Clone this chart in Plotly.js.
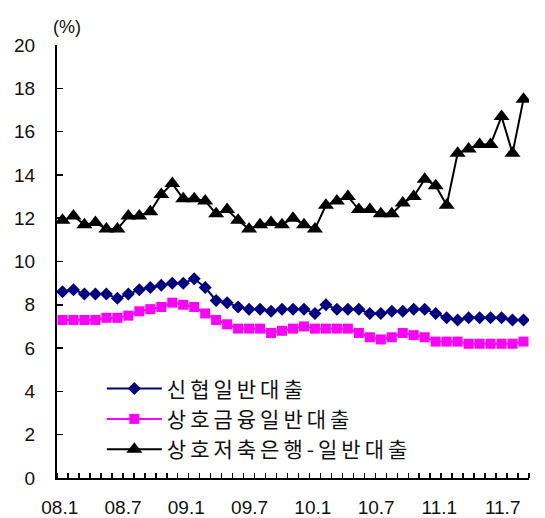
<!DOCTYPE html>
<html>
<head>
<meta charset="utf-8">
<script src="https://cdn.plot.ly/plotly-3.0.1.min.js"></script>
<style>
  html, body { margin: 0; padding: 0; background: #fff; }
  #chart { width: 545px; height: 518px; }
  /* the series names are set with a little extra tracking; let them run past the measured box */
  #chart .legendtext { letter-spacing: 4px; }
  #chart .legend .scrollbox { clip-path: none; }
</style>
</head>
<body>
<div id="chart"></div>
<script>
// Monthly general-loan rates (%), 2008.1 – 2011.7 (43 months)
const seriesNames = ['신협일반대출', '상호금융일반대출', '상호저축은행-일반대출'];

const shinhyup = [8.6, 8.7, 8.5, 8.5, 8.5, 8.3, 8.5, 8.7, 8.8, 8.9,
                  9.0, 9.0, 9.2, 8.8, 8.2, 8.1, 7.9, 7.8, 7.8, 7.7,
                  7.8, 7.8, 7.8, 7.6, 8.0, 7.8, 7.8, 7.8, 7.6, 7.6,
                  7.7, 7.7, 7.8, 7.8, 7.6, 7.4, 7.3, 7.4, 7.4, 7.4,
                  7.4, 7.3, 7.3];

const sanghoFin = [7.3, 7.3, 7.3, 7.3, 7.4, 7.4, 7.5, 7.7, 7.8, 7.9,
                   8.1, 8.0, 7.9, 7.6, 7.3, 7.1, 6.9, 6.9, 6.9, 6.7,
                   6.8, 6.9, 7.0, 6.9, 6.9, 6.9, 6.9, 6.7, 6.5, 6.4,
                   6.5, 6.7, 6.6, 6.5, 6.3, 6.3, 6.3, 6.2, 6.2, 6.2,
                   6.2, 6.2, 6.3];

const savingsBank = [11.9, 12.1, 11.7, 11.8, 11.5, 11.5, 12.1, 12.1, 12.3, 13.1,
                     13.6, 12.9, 12.9, 12.8, 12.2, 12.4, 11.9, 11.5, 11.7, 11.8,
                     11.7, 12.0, 11.7, 11.5, 12.6, 12.8, 13.0, 12.4, 12.4, 12.2,
                     12.2, 12.7, 13.0, 13.8, 13.5, 12.6, 15.0, 15.2, 15.4, 15.4,
                     16.7, 15.0, 17.5];

const tickLabels = ['08.1', '08.7', '09.1', '09.7', '10.1', '10.7', '11.1', '11.7'];
const yTicks = [0, 2, 4, 6, 8, 10, 12, 14, 16, 18, 20];

// one slot per month on the category axis
const months = shinhyup.map((_, i) => i);

// the date labels are spread evenly, ending a little short of the last month
const labelStart = -0.25, labelEnd = 40.1;
const tickPos = tickLabels.map((_, k) => labelStart + k * (labelEnd - labelStart) / (tickLabels.length - 1));

const tickFont = { family: 'Liberation Sans, Arial, sans-serif', size: 19, color: '#111' };

const traces = [
  {
    x: months, y: shinhyup, name: seriesNames[0], type: 'scatter', mode: 'lines+markers',
    line: { color: '#000080', width: 2 },
    marker: { symbol: 'diamond', size: 10, color: '#000080' }
  },
  {
    x: months, y: sanghoFin, name: seriesNames[1], type: 'scatter', mode: 'lines+markers',
    line: { color: '#FF00FF', width: 2 },
    marker: { symbol: 'square', size: 10, color: '#FF00FF' }
  },
  {
    x: months, y: savingsBank, name: seriesNames[2], type: 'scatter', mode: 'lines+markers',
    line: { color: '#000000', width: 2 },
    marker: { symbol: 'triangle-up', size: 14, color: '#000000' }
  }
];

const layout = {
  width: 545, height: 518,
  margin: { l: 57, r: 16, t: 45, b: 40, pad: 0 },
  paper_bgcolor: '#fff', plot_bgcolor: '#fff',
  showlegend: true,
  legend: {
    x: 0.095, y: 0.253, xanchor: 'left', yanchor: 'top',
    bgcolor: 'rgba(0,0,0,0)',
    itemwidth: 55,
    font: { family: 'Noto Sans CJK KR, sans-serif', size: 21, color: '#111' },
    tracegroupgap: 0
  },
  xaxis: {
    range: [-0.5, months.length - 0.5],
    tickvals: tickPos, ticktext: tickLabels,
    ticks: '', showgrid: false, zeroline: false,
    showline: true, linecolor: '#000', linewidth: 2,
    tickfont: tickFont, ticklabelstandoff: 11,
    minor: { tick0: -0.5, dtick: 1, ticks: 'inside', ticklen: 5, tickwidth: 1.5, tickcolor: '#000', showgrid: false }
  },
  yaxis: {
    range: [0, 20],
    tickvals: yTicks,
    ticks: 'inside', ticklen: 6, tickwidth: 1.5, tickcolor: '#000',
    showgrid: false, zeroline: false,
    showline: true, linecolor: '#000', linewidth: 2,
    tickfont: tickFont, ticklabelstandoff: 16
  },
  annotations: [
    {
      xref: 'paper', yref: 'paper', x: 0.022, y: 1.014, xanchor: 'center', yanchor: 'bottom',
      text: '(%)', showarrow: false, font: { family: 'Liberation Sans, Arial, sans-serif', size: 18, color: '#111' }
    }
  ]
};

Plotly.newPlot('chart', traces, layout, { displayModeBar: false, staticPlot: true });
</script>
</body>
</html>
